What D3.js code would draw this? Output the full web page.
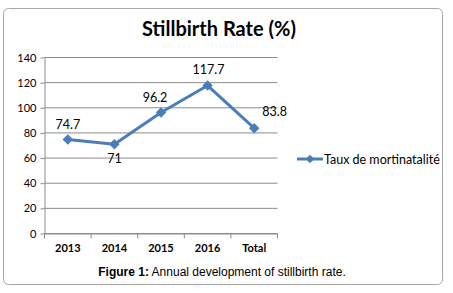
<!DOCTYPE html>
<html><head><meta charset="utf-8">
<script src="https://cdn.jsdelivr.net/npm/d3@7"></script>
<style>body{margin:0;background:#fff}svg{display:block}</style>
</head><body>
<script>
const categories = ["2013","2014","2015","2016","Total"];
const values = [74.7, 71, 96.2, 117.7, 83.8];
const labels = ["74.7","71","96.2","117.7","83.8"];
const yTicks = [0,20,40,60,80,100,120,140];
const seriesName = "Taux de mortinatalité";

const W=453,H=293;
const svg=d3.select("body").append("svg").attr("width",W).attr("height",H);
svg.append("rect").attr("x",3.5).attr("y",8.5).attr("width",439).attr("height",276).attr("rx",5)
  .attr("fill","#fff").attr("stroke","#a6a6a6").attr("stroke-width",1);

const font="Lato, 'Open Sans', sans-serif";
svg.append("text").attr("x",219).attr("y",36).attr("text-anchor","middle")
  .attr("font-family",font).attr("font-weight","bold").attr("font-size",20).attr("fill","#000")
  .text("Stillbirth Rate (%)");

const x=d3.scaleBand().domain(categories).range([44.5,277.5]);
const y=d3.scaleLinear().domain([0,140]).range([233.5,57.5]);

const g=svg.append("g");
g.selectAll("line.grid").data(yTicks).join("line").attr("class","grid")
  .attr("x1",44.5).attr("x2",277.5).attr("y1",d=>y(d)).attr("y2",d=>y(d))
  .attr("stroke","#8c8c8c").attr("stroke-width",1);

const yAxis=g.append("g").attr("transform","translate(44.5,0)")
  .call(d3.axisLeft(y).tickValues(yTicks).tickSize(4).tickSizeOuter(0));
yAxis.select(".domain").attr("stroke","#8c8c8c");
yAxis.selectAll(".tick line").attr("stroke","#8c8c8c");
yAxis.selectAll("text").attr("font-family",font).attr("font-size",11).attr("fill","#000").attr("dx","-1");

const xAxis=g.append("g").attr("transform","translate(0,233.5)")
  .call(d3.axisBottom(x).tickSize(0).tickSizeOuter(0));
xAxis.select(".domain").attr("stroke","#8c8c8c");
xAxis.selectAll("text").attr("font-family",font).attr("font-weight","bold").attr("font-size",11).attr("fill","#000").attr("dy","1.4em");
const bounds=categories.map(c=>x(c)).concat([x.range()[1]]);
xAxis.selectAll("line.bt").data(bounds).join("line").attr("class","bt")
  .attr("x1",d=>d).attr("x2",d=>d).attr("y1",0).attr("y2",5).attr("stroke","#8c8c8c");

const cx=c=>x(c)+x.bandwidth()/2;
const blue="#4a7ebb";
const line=d3.line().x((d,i)=>cx(categories[i])).y(d=>y(d));
g.append("path").datum(values).attr("d",line).attr("fill","none").attr("stroke",blue)
  .attr("stroke-width",3).attr("stroke-linejoin","round");
const diamond=d3.symbol().type(d3.symbolDiamond2).size(70);
g.selectAll("path.mk").data(values).join("path").attr("class","mk")
  .attr("transform",(d,i)=>`translate(${cx(categories[i])},${y(d)})`).attr("d",diamond).attr("fill",blue);

const offs=[[0,-11,"middle"],[0,19,"middle"],[-6,-11,"middle"],[1,-12,"middle"],[8,-12,"start"]];
g.selectAll("text.dl").data(values).join("text").attr("class","dl")
  .attr("x",(d,i)=>cx(categories[i])+offs[i][0]).attr("y",(d,i)=>y(d)+offs[i][1])
  .attr("text-anchor",(d,i)=>offs[i][2]).attr("font-family",font).attr("font-size",12.5).attr("fill","#000")
  .text((d,i)=>labels[i]);

const lg=svg.append("g");
lg.append("line").attr("x1",297).attr("x2",323).attr("y1",159).attr("y2",159).attr("stroke",blue).attr("stroke-width",3);
lg.append("path").attr("transform","translate(310,159)").attr("d",d3.symbol().type(d3.symbolDiamond2).size(45)).attr("fill",blue);
lg.append("text").attr("x",324).attr("y",163.5).attr("font-family",font).attr("font-size",12.5).attr("fill","#000").text(seriesName);

const cap=svg.append("text").attr("x",222).attr("y",276).attr("text-anchor","middle")
  .attr("font-family","Arial, 'Liberation Sans', sans-serif").attr("font-size",12).attr("fill","#000");
cap.append("tspan").attr("font-weight","bold").text("Figure 1:");
cap.append("tspan").text(" Annual development of stillbirth rate.");
</script>
</body></html>
